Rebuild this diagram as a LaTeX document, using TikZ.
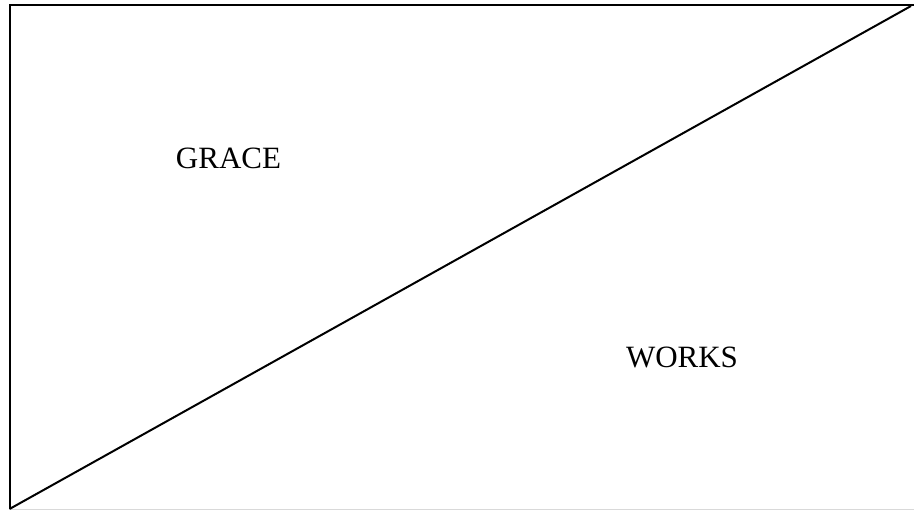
\documentclass[tikz,border=0pt]{standalone}
\usepackage{fontspec}
\setmainfont{Liberation Serif}
\begin{document}
\begin{tikzpicture}[x=1pt,y=-1pt,
  edge/.style={line width=2pt,black},
  lbl/.style={font=\fontsize{31}{36}\selectfont,anchor=base,inner sep=0pt}]
\useasboundingbox (0,0) rectangle (914,512);
\coordinate (tl) at (9.5,5);
\coordinate (tr) at (914,5);
\coordinate (bl) at (9.5,509);
\coordinate (br) at (914,509);
\coordinate (dtop) at (911,6);
\draw[edge] (tr) -- (tl) -- (bl);
\draw[line width=1pt,black!15] (bl) -- (br);
\draw[edge] (bl) -- (dtop);
\node[lbl] (grace) at (228.5,168) {GRACE};
\node[lbl] (works) at (682,367) {WORKS};
\end{tikzpicture}
\end{document}
